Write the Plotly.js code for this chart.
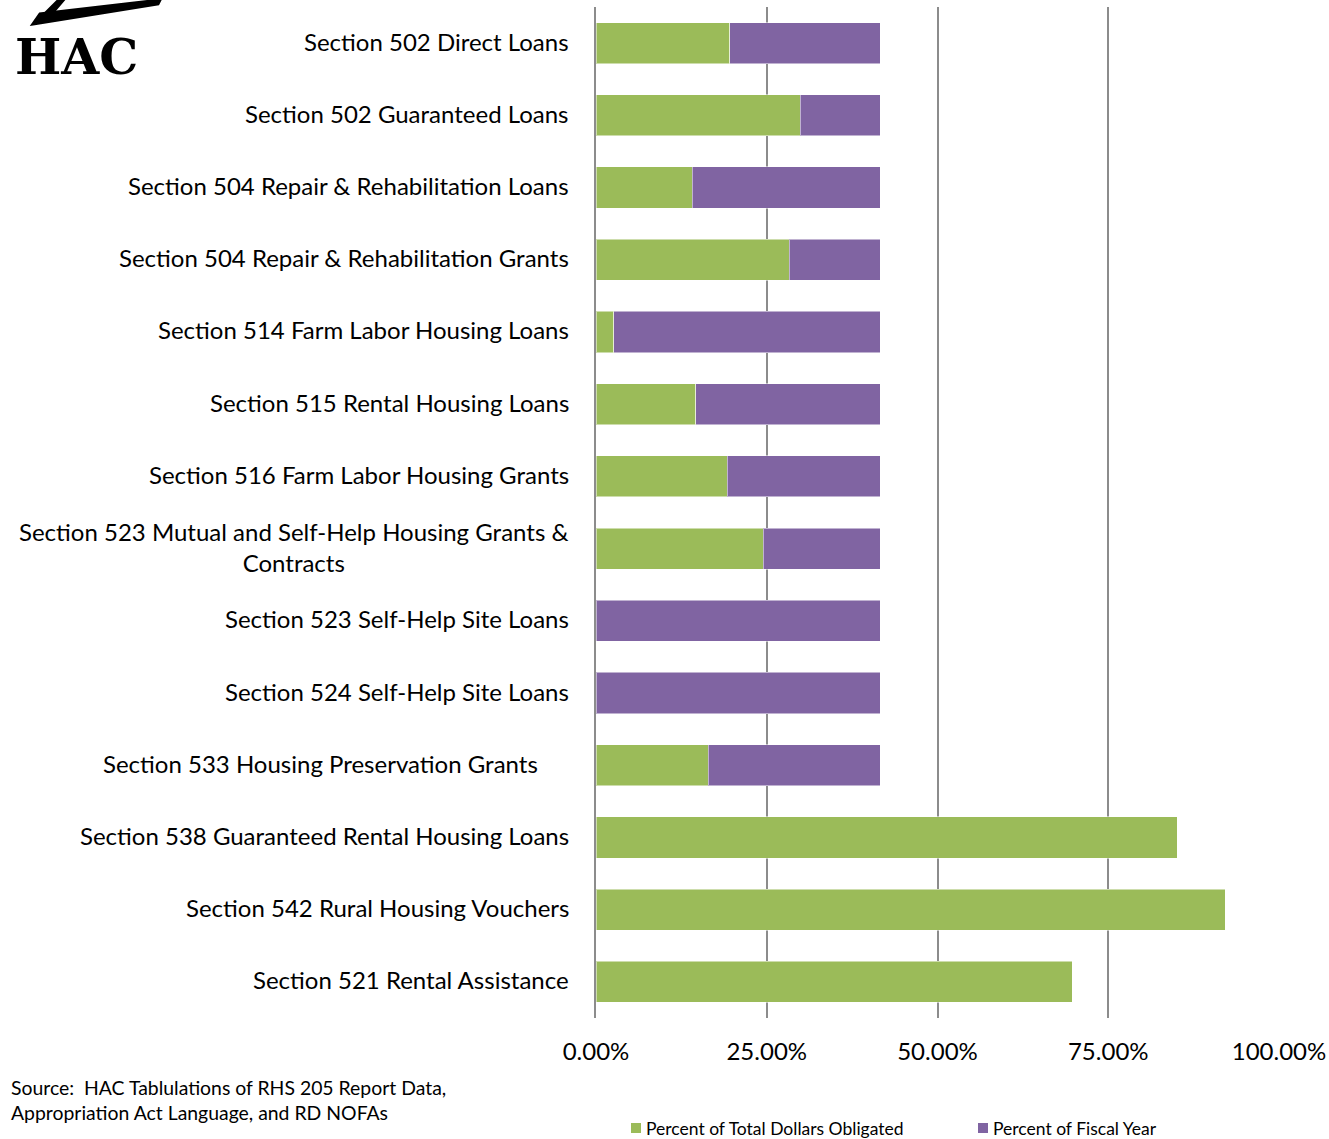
<!DOCTYPE html>
<html>
<head>
<meta charset="utf-8">
<script src="https://cdn.plot.ly/plotly-3.0.1.min.js"></script>
<style>html,body{margin:0;padding:0;background:#fff;}#chart{width:1329px;height:1139px;}</style>
</head>
<body>
<div id="chart"></div>
<script>
// Categories (top to bottom)
const categories = [
  "Section 502 Direct Loans",
  "Section 502 Guaranteed Loans",
  "Section 504 Repair & Rehabilitation Loans",
  "Section 504 Repair & Rehabilitation Grants",
  "Section 514 Farm Labor Housing Loans",
  "Section 515 Rental Housing Loans",
  "Section 516 Farm Labor Housing Grants",
  "Section 523 Mutual and Self-Help Housing Grants & Contracts",
  "Section 523 Self-Help Site Loans",
  "Section 524 Self-Help Site Loans",
  "Section 533 Housing Preservation Grants",
  "Section 538 Guaranteed Rental Housing Loans",
  "Section 542 Rural Housing Vouchers",
  "Section 521 Rental Assistance"
];
// Label text as shown (with line break / trailing spacing as in the original)
const categoryLabels = [
  "Section 502 Direct Loans",
  "Section 502 Guaranteed Loans",
  "Section 504 Repair & Rehabilitation Loans",
  "Section 504 Repair & Rehabilitation Grants",
  "Section 514 Farm Labor Housing Loans",
  "Section 515 Rental Housing Loans",
  "Section 516 Farm Labor Housing Grants",
  "Section 523 Mutual and Self-Help Housing Grants &<br>Contracts",
  "Section 523 Self-Help Site Loans",
  "Section 524 Self-Help Site Loans",
  "Section 533 Housing Preservation Grants\u00a0\u00a0\u00a0\u00a0\u00a0",
  "Section 538 Guaranteed Rental Housing Loans",
  "Section 542 Rural Housing Vouchers",
  "Section 521 Rental Assistance"
];
// Percent of Total Dollars Obligated (fraction)
const pctDollarsObligated = [0.196, 0.299, 0.141, 0.283, 0.026, 0.146, 0.192, 0.245, 0.0, 0.0, 0.164, 0.851, 0.921, 0.697];
// Percent of Fiscal Year (stacked remainder, fraction)
const pctFiscalYear = [0.220, 0.117, 0.275, 0.133, 0.390, 0.270, 0.224, 0.171, 0.416, 0.416, 0.252, 0.0, 0.0, 0.0];
const xTickVals = [0, 0.25, 0.5, 0.75, 1.0];
const seriesNames = ["Percent of Total Dollars Obligated", "Percent of Fiscal Year"];
const seriesColors = ["#9BBB59", "#8064A2"];
const sourceText = "Source:  HAC Tablulations of RHS 205 Report Data,<br>Appropriation Act Language, and RD NOFAs";

const FONT = "Lato, 'Open Sans', sans-serif";
const plotL = 596, plotR = 1279, plotT = 7, plotB = 1018;
const pw = plotR - plotL, ph = plotB - plotT;
const px = x => (x - plotL) / pw;
const py = y => (plotB - y) / ph;

const traces = [
  {type: "bar", orientation: "h", y: categories, x: pctDollarsObligated, name: seriesNames[0],
   marker: {color: seriesColors[0], line: {color: "rgba(255,255,255,0.5)", width: 1}}, hoverinfo: "x+y"},
  {type: "bar", orientation: "h", y: categories, x: pctFiscalYear, name: seriesNames[1],
   marker: {color: seriesColors[1], line: {color: "rgba(255,255,255,0.5)", width: 1}}, hoverinfo: "x+y"}
];

const annotations = categories.map((c, i) => ({
  xref: "paper", yref: "y", x: 0, y: c, xanchor: "right", yanchor: "middle",
  xshift: -25, yshift: 2, text: categoryLabels[i], showarrow: false, align: "center",
  font: {family: FONT, size: 24, color: "#000"}
}));
annotations.push({
  xref: "paper", yref: "paper", x: px(9), y: py(1074), xanchor: "left", yanchor: "top",
  text: sourceText, showarrow: false, align: "left",
  font: {family: FONT, size: 19.4, color: "#000"}
});
annotations.push({
  xref: "paper", yref: "paper", x: px(13), y: py(57), xanchor: "left", yanchor: "middle",
  text: "<b>HAC</b>", showarrow: false,
  font: {family: "'DejaVu Serif', serif", size: 49, color: "#000"}
});
// manual legend entries
const legendX = [631, 978];
const shapes = [
  {type: "path", xref: "paper", yref: "paper",
   path: `M ${px(33)},${py(24)} L ${px(158)},${py(4)} L ${px(160)},${py(0)} L ${px(40)},${py(14)} Z`,
   fillcolor: "#000", line: {color: "#000", width: 3}},
  {type: "path", xref: "paper", yref: "paper",
   path: `M ${px(46)},${py(12)} L ${px(58)},${py(0)} L ${px(64)},${py(0)} L ${px(52)},${py(14)} Z`,
   fillcolor: "#000", line: {color: "#000", width: 2}}
];
seriesNames.forEach((n, i) => {
  shapes.push({type: "rect", xref: "paper", yref: "paper",
    x0: px(legendX[i]), x1: px(legendX[i] + 10), y0: py(1133), y1: py(1123),
    fillcolor: seriesColors[i], line: {width: 0}});
  annotations.push({xref: "paper", yref: "paper", x: px(legendX[i] + 13), y: py(1128),
    xanchor: "left", yanchor: "middle", text: n, showarrow: false,
    font: {family: FONT, size: 17.5, color: "#000"}});
});

const layout = {
  width: 1329, height: 1139,
  margin: {l: plotL, r: 1329 - plotR, t: plotT, b: 1139 - plotB, autoexpand: false},
  paper_bgcolor: "#fff", plot_bgcolor: "#fff",
  barmode: "stack", bargap: 0.43,
  font: {family: FONT, color: "#000"},
  xaxis: {
    range: [0, 1], tickvals: xTickVals, tickformat: ".2%",
    showgrid: true, gridcolor: "#8c8c8c", gridwidth: 2,
    zeroline: false, showline: false, ticks: "",
    tickfont: {family: FONT, size: 24, color: "#000"},
    ticklabelstandoff: 17, fixedrange: true
  },
  yaxis: {
    type: "category", autorange: "reversed", showticklabels: false,
    showgrid: false, zeroline: false, showline: true, linecolor: "#8c8c8c", linewidth: 2,
    ticks: "", fixedrange: true
  },
  showlegend: false,
  shapes: shapes,
  annotations: annotations
};

Plotly.newPlot("chart", traces, layout, {displayModeBar: false, staticPlot: true});
</script>
</body>
</html>
